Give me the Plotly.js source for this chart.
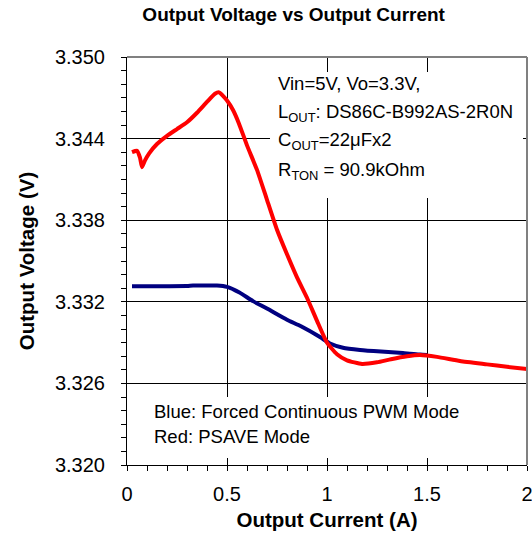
<!DOCTYPE html>
<html><head><meta charset="utf-8">
<script src="https://cdn.plot.ly/plotly-3.0.1.min.js"></script>
<style>html,body{margin:0;padding:0;background:#fff}</style>
</head><body>
<div id="chart" style="width:532px;height:536px"></div>
<script>
// Blue: Forced Continuous PWM Mode
const blueCurrent = [0.025, 0.1, 0.2, 0.3, 0.33, 0.4, 0.45, 0.5, 0.56, 0.63, 0.7, 0.8, 0.87, 0.965, 1.015, 1.08, 1.165, 1.27, 1.38, 1.465, 1.5];
const blueVoltage = [3.33315, 3.33315, 3.33315, 3.33316, 3.3332, 3.3332, 3.3332, 3.3331, 3.3327, 3.33205, 3.3315, 3.33068, 3.3302, 3.32941, 3.32893, 3.32862, 3.32846, 3.32834, 3.32824, 3.32812, 3.32808];
// Red: PSAVE Mode
const redCurrent = [0.025, 0.05, 0.065, 0.075, 0.09, 0.11, 0.15, 0.2, 0.25, 0.3, 0.35, 0.4, 0.44, 0.46, 0.5, 0.53, 0.56, 0.6, 0.65, 0.7, 0.75, 0.8, 0.85, 0.9, 0.95, 1.0, 1.05, 1.1, 1.175, 1.25, 1.32, 1.4, 1.465, 1.55, 1.665, 1.8, 1.9, 2.0];
const redVoltage = [3.3430, 3.3431, 3.3426, 3.3419, 3.3424, 3.3429, 3.3436, 3.3442, 3.3447, 3.3452, 3.3459, 3.3467, 3.3473, 3.3474, 3.3468, 3.3461, 3.3451, 3.3435, 3.3417, 3.3395, 3.3373, 3.3355, 3.3338, 3.3323, 3.3306, 3.3290, 3.32815, 3.3277, 3.32743, 3.32755, 3.32778, 3.32800, 3.32809, 3.32795, 3.32765, 3.32740, 3.32722, 3.32706];
const xTicks = [0, 0.5, 1, 1.5, 2];
const xTickLabels = ['0', '0.5', '1', '1.5', '2'];
const yTicks = [3.320, 3.326, 3.332, 3.338, 3.344, 3.350];
const yTickLabels = ['3.320', '3.326', '3.332', '3.338', '3.344', '3.350'];

const F = 'Arial, "Liberation Sans", sans-serif';
const traces = [
  {x: blueCurrent, y: blueVoltage, mode: 'lines', line: {color: '#000080', width: 4, shape: 'spline', smoothing: 0.6}, showlegend: false},
  {x: redCurrent, y: redVoltage, mode: 'lines', line: {color: '#FF0000', width: 4, shape: 'spline', smoothing: 0.5}, showlegend: false}
];
const axBase = {showgrid: false, zeroline: false};
const ann = (x, y, text) => ({xref: 'paper', yref: 'paper', x: x, y: y, xanchor: 'left', yanchor: 'middle', showarrow: false, align: 'left', font: {size: 18.5}, text: text});
const box = (x, y, w, h) => ({xref: 'paper', yref: 'paper', x: x, y: y, xanchor: 'left', yanchor: 'top', showarrow: false, text: ' ', width: w, height: h, bgcolor: '#fff', borderpad: 0, borderwidth: 0});
const layout = {
  width: 532, height: 536,
  margin: {l: 127, r: 5, t: 57, b: 71},
  paper_bgcolor: '#fff', plot_bgcolor: '#fff',
  font: {family: F, size: 18.5, color: '#000'},
  title: {text: '<b>Output Voltage vs Output Current</b>', font: {family: F, size: 19, color: '#000'}, x: 0.552, xanchor: 'center', y: 0.974, yanchor: 'middle'},
  xaxis: {range: [0, 2], tickvals: xTicks, ticktext: xTickLabels, ticks: 'outside', ticklen: 5, tickcolor: '#000', tickwidth: 1,
    minor: {dtick: 0.1, ticks: 'outside', ticklen: 5, tickcolor: '#000', showgrid: false},
    showline: true, linecolor: '#000', linewidth: 1, showgrid: true, gridcolor: '#000', gridwidth: 1, zeroline: false,
    ticklabelstandoff: 6, ticklabeloverflow: 'allow',
    tickfont: {size: 20}, title: {text: '<b>Output Current (A)</b>', font: {size: 20.5}, standoff: 8}},
  yaxis: {range: [3.320, 3.350], tickvals: yTicks, ticktext: yTickLabels, ticks: 'outside', ticklen: 5, tickcolor: '#000', tickwidth: 1,
    minor: {dtick: 0.001, tick0: 3.320, ticks: 'outside', ticklen: 5, tickcolor: '#000', showgrid: false},
    showline: true, linecolor: '#000', linewidth: 1, showgrid: true, gridcolor: '#000', gridwidth: 1, zeroline: false,
    ticklabelstandoff: 12, ticklabeloverflow: 'allow',
    tickfont: {size: 20}, title: {text: '<b>Output Voltage (V)</b>', font: {size: 20.5}, standoff: 14}},
  xaxis2: Object.assign({}, axBase, {overlaying: 'x', range: [0, 2], tickvals: xTicks, showticklabels: false, ticks: 'inside', ticklen: 5, tickcolor: '#000',
    minor: {dtick: 0.1, ticks: 'inside', ticklen: 5, tickcolor: '#000'}, anchor: 'y'}),
  yaxis2: Object.assign({}, axBase, {overlaying: 'y', range: [3.320, 3.350], tickvals: yTicks, showticklabels: false, ticks: 'inside', ticklen: 5, tickcolor: '#000',
    minor: {dtick: 0.001, tick0: 3.320, ticks: 'inside', ticklen: 5, tickcolor: '#000'}, anchor: 'x'}),
  shapes: [
    {type: 'line', xref: 'paper', yref: 'paper', x0: 0, x1: 1, y0: 1, y1: 1, line: {color: '#808080', width: 2}},
    {type: 'line', xref: 'paper', yref: 'paper', x0: 1, x1: 1, y0: 0, y1: 1, line: {color: '#808080', width: 2}}
  ],
  annotations: [
    box(0.3575, 0.963, 253, 126),
    box(0.0325, 0.167, 305, 61),
    ann(0.3725, 0.934, 'Vin=5V, Vo=3.3V,'),
    ann(0.3725, 0.863, 'L<sub>OUT</sub>: DS86C-B992AS-2R0N'),
    ann(0.3725, 0.794, 'C<sub>OUT</sub>=22μFx2'),
    ann(0.3725, 0.721, 'R<sub>TON</sub> = 90.9kOhm'),
    ann(0.0625, 0.132, 'Blue: Forced Continuous PWM Mode'),
    ann(0.0625, 0.071, 'Red: PSAVE Mode')
  ]
};
Plotly.newPlot('chart', traces, layout, {displayModeBar: false, staticPlot: true});
</script>
</body></html>
